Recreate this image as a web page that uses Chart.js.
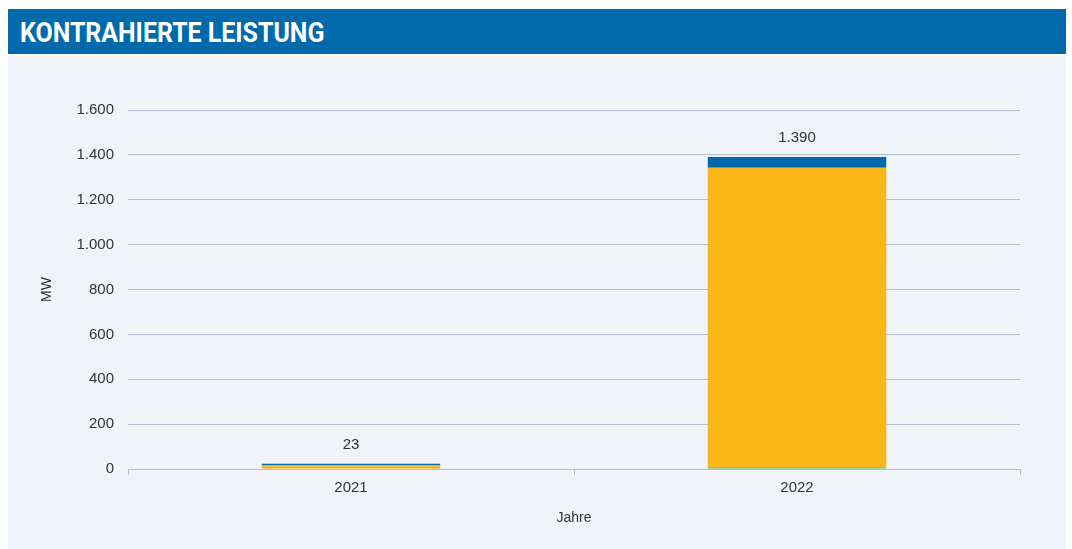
<!DOCTYPE html>
<html>
<head>
<meta charset="utf-8">
<script src="https://cdn.jsdelivr.net/npm/chart.js@4"></script>
<style>
  body { margin: 0; background: #fff; width: 1072px; height: 549px; overflow: hidden; position: relative; }
  .header { position: absolute; left: 8px; top: 9px; width: 1058px; height: 45px; background: #006AAD; }
  .header span { position: absolute; left: 12px; top: 7px; color: #fff; font: bold 28px "Roboto", sans-serif; transform: scaleX(0.89); transform-origin: left top; white-space: nowrap; }
  .panel { position: absolute; left: 8px; top: 56px; width: 1058px; height: 493px; background: #F0F3F8; }
  canvas { display: block; }
</style>
</head>
<body>
<div class="header"><span>KONTRAHIERTE LEISTUNG</span></div>
<div class="panel"><canvas id="chart" width="1058" height="493"></canvas></div>
<script>
const years = ["2021", "2022"];
const seriesNames = ["Serie A", "Serie B", "Serie C"];
const greenValues = [0, 7];
const yellowValues = [18, 1336];
const blueValues = [5, 47];
const totals = [23, 1390];
const yTicks = [0, 200, 400, 600, 800, 1000, 1200, 1400, 1600];

const fmt = v => v.toLocaleString("de-DE");

// total above each stack
const totalLabels = {
    id: "totalLabels",
    afterDatasetsDraw(chart) {
        const ctx = chart.ctx;
        const x = chart.scales.x;
        const y = chart.scales.y;
        ctx.save();
        ctx.font = "15px 'Liberation Sans', sans-serif";
        ctx.fillStyle = "#333";
        ctx.textAlign = "center";
        ctx.textBaseline = "middle";
        totals.forEach((t, i) => {
            ctx.fillText(fmt(t), x.getPixelForValue(i), y.getPixelForValue(t) - 19);
        });
        ctx.restore();
    }
};

const ctx = document.querySelector("#chart").getContext("2d");
new Chart(ctx, {
    type: "bar",
    data: {
        labels: years,
        datasets: [
            { label: seriesNames[0], data: greenValues, backgroundColor: "#4CAF50" },
            { label: seriesNames[1], data: yellowValues, backgroundColor: "#FBB718" },
            { label: seriesNames[2], data: blueValues, backgroundColor: "#0069AD" },
        ]
    },
    options: {
        responsive: false,
        animation: false,
        devicePixelRatio: 1,
        layout: { padding: { top: 54, right: 46, bottom: 18, left: 27 } },
        datasets: { bar: { categoryPercentage: 1, barPercentage: 0.4 } },
        scales: {
            x: {
                stacked: true,
                offset: true,
                grid: { drawOnChartArea: false, offset: true, color: "#B4BED6", tickLength: 6 },
                border: { color: "#B4BED6" },
                ticks: { color: "#333", padding: 4, font: { family: "'Liberation Sans', sans-serif", size: 15 } },
                title: { display: true, text: "Jahre", color: "#333", font: { family: "'Liberation Sans', sans-serif", size: 14 } },
                afterFit(scale) { scale.height = 62; }
            },
            y: {
                stacked: true,
                min: 0,
                max: 1600,
                afterBuildTicks(scale) { scale.ticks = yTicks.map(v => ({ value: v })); },
                grid: { color: "#B4BED6", drawTicks: false },
                border: { display: false },
                ticks: { color: "#333", padding: 14, callback: v => fmt(v), font: { family: "'Liberation Sans', sans-serif", size: 15 } },
                title: { display: true, text: "MW", color: "#333", font: { family: "'Liberation Sans', sans-serif", size: 14 } },
                afterFit(scale) { scale.width = 93; }
            }
        },
        plugins: {
            legend: { display: false },
            tooltip: { enabled: false }
        }
    },
    plugins: [totalLabels]
});
</script>
</body>
</html>
